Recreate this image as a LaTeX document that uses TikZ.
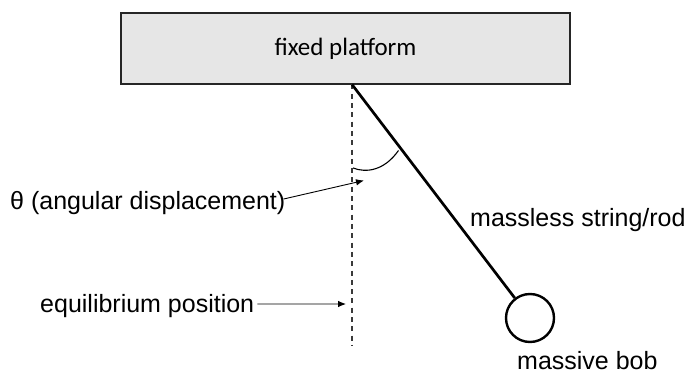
\documentclass[tikz,border=0pt]{standalone}
\usepackage{fontspec}
\setmainfont{Liberation Sans}
\newfontfamily\platformfont{Carlito}
\usetikzlibrary{arrows.meta}
\definecolor{platformgrey}{HTML}{E6E6E6}
\definecolor{dashgrey}{HTML}{3A3A3A}
\tikzset{
  label text/.style={inner sep=0pt, font=\fontsize{25}{30}\selectfont},
  platformbox/.style={draw=black!85, line width=1.3pt, fill=platformgrey,
    minimum width=449pt, minimum height=71pt, inner sep=0pt,
    font=\platformfont\fontsize{25}{30}\selectfont},
  rodline/.style={line width=2.7pt},
  bobcircle/.style={circle, draw, line width=2.4pt, minimum size=48pt, inner sep=0pt},
  refline/.style={draw=dashgrey, line width=1.3pt, dash pattern=on 5pt off 4.3pt},
  pointer/.style={line width=0.9pt, -{Latex[length=8pt,width=6.5pt]}},
  anglemark/.style={line width=1.1pt}
}
\begin{document}
\begin{tikzpicture}[x=1pt, y=-1pt]
  \useasboundingbox (0,0) rectangle (688,374);

  % support and pivot
  \node[platformbox] (platform) at (345.5,48.5) {fixed platform};
  \coordinate (pivot) at (352,84.5);
  \coordinate (vertend) at (352,345);

  % bob and rod
  \node[bobcircle] (bob) at (530,318) {};
  \draw[refline] (pivot) -- (vertend);
  \draw[rodline] (pivot) -- (bob);

  % angle mark between the vertical and the rod
  \coordinate (arcstart) at (353,168);
  \coordinate (arcend) at (398.5,150.5);
  \draw[anglemark] (arcstart) .. controls (366,173) and (384,171) .. (arcend);

  % labels
  \node[label text, anchor=base west] (theta) at (10,210) {θ (angular displacement)};
  \node[label text, anchor=base west] (equil) at (40,312) {equilibrium position};
  \node[label text, anchor=base west] (rodlabel) at (470,227) {massless string/rod};
  \node[label text, anchor=base west] (boblabel) at (517,369.5) {massive bob};

  % pointers
  \coordinate (thetatip) at (364,180.5);
  \coordinate (eqtip) at (346,304);
  \draw[pointer] ([shift={(-2,-4.5)}]theta.east) -- (thetatip);
  \draw[pointer] ([shift={(3,-1.5)}]equil.east) -- (eqtip);
\end{tikzpicture}
\end{document}
